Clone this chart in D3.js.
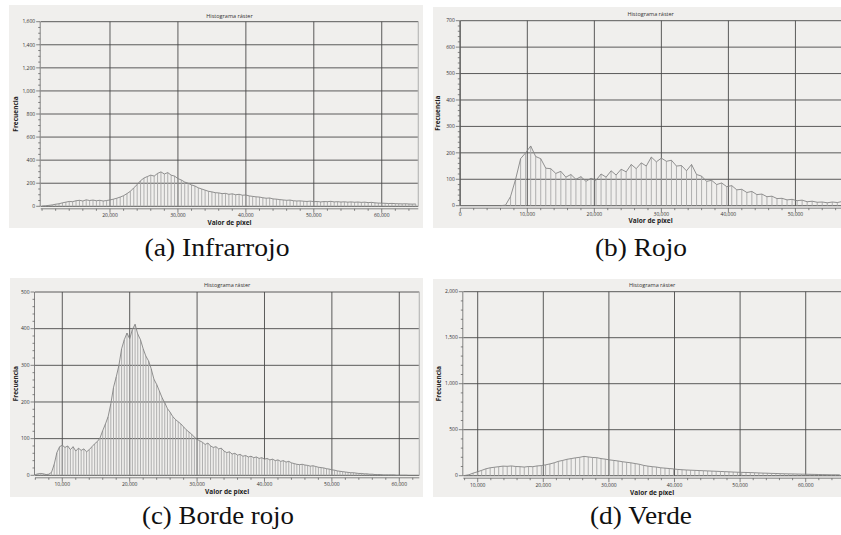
<!DOCTYPE html>
<html><head><meta charset="utf-8">
<script src="https://cdn.jsdelivr.net/npm/d3@7"></script>
<style>
html,body{margin:0;padding:0;background:#fff;}
svg{display:block;}
.tick-lbl{font-family:"Open Sans","DejaVu Sans",sans-serif;font-size:5px;fill:#333;}
.ttl{font-family:"Open Sans","DejaVu Sans",sans-serif;font-size:5.5px;fill:#333;}
.axl{font-family:"Open Sans","DejaVu Sans",sans-serif;font-size:6.5px;font-weight:bold;fill:#222;}
.cap{font-family:"Liberation Serif",serif;font-size:25px;fill:#111;}
</style>
</head><body>
<svg id="c" width="841" height="535"></svg>
<script>
// ---------------- DATA ----------------
const chartTitle = "Histograma ráster";
const xLabel = "Valor de píxel";
const yLabel = "Frecuencia";
const captions = ["(a) Infrarrojo", "(b) Rojo", "(c) Borde rojo", "(d) Verde"];

// (a) Infrarrojo : bins start 10000, width 500
const infrarrojoStart = 10000, infrarrojoStep = 500;
const infrarrojoFreq = [2,4,8,12,18,22,30,36,42,40,48,52,46,56,50,54,48,52,46,50,
  55,62,70,80,92,110,130,160,188,222,245,258,270,262,285,298,280,292,270,262,
  240,228,210,200,185,176,160,150,140,130,125,118,116,110,112,104,108,100,104,96,
  98,90,86,82,80,74,70,72,64,62,58,55,52,54,48,46,47,44,42,45,
  40,42,38,41,40,43,38,40,37,39,36,38,35,37,34,36,32,34,30,28,
  27,26,24,25,23,22,21,22,20,19,20];
const infrarrojoYTicks = [0,200,400,600,800,1000,1200,1400,1600];
const infrarrojoXTicks = [20000,30000,40000,50000,60000];

// (b) Rojo : bins start 6000, width 750
const rojoStart = 6000, rojoStep = 750;
const rojoFreq = [0,2,35,100,178,200,226,186,178,142,140,122,130,108,118,100,110,92,104,96,
  120,108,132,116,138,128,156,140,162,150,184,166,180,168,172,150,152,132,156,118,
  112,92,96,80,86,72,76,60,62,50,54,42,44,34,36,27,28,22,24,19,
  21,15,17,13,14,11,14,12,16];
const rojoYTicks = [0,100,200,300,400,500,600,700];
const rojoXTicks = [0,10000,20000,30000,40000,50000];

// (c) Borde rojo : bins start 6000, width 400
const bordeStart = 6000, bordeStep = 400;
const bordeFreq = [2,4,5,4,2,3,8,30,62,78,82,76,80,70,78,66,74,68,72,64,
  70,78,86,92,102,122,140,160,195,240,268,300,345,370,388,372,398,412,385,370,
  345,325,312,290,262,248,230,212,198,182,172,160,152,146,140,132,124,118,112,104,
  98,94,90,84,88,80,76,78,72,74,66,62,64,58,60,55,57,52,54,50,
  52,48,50,46,48,44,46,42,44,40,42,38,40,36,38,34,32,30,29,30,
  28,27,25,26,24,22,21,20,18,17,15,14,12,11,10,9,8,7,7,6,
  5,5,4,4,3,3,2,2,2,1,1,1,1,1,0,0,0,0,0];
const bordeYTicks = [0,100,200,300,400,500];
const bordeXTicks = [10000,20000,30000,40000,50000,60000];

// (d) Verde : bins start 8000, width 650
const verdeStart = 8000, verdeStep = 650;
const verdeFreq = [2,10,28,42,58,75,86,92,98,104,102,106,100,98,94,100,98,106,110,118,
  128,140,156,166,178,186,194,200,210,204,198,196,186,180,172,166,160,152,146,140,
  132,124,112,104,98,94,86,82,78,74,68,65,62,60,58,56,54,52,50,48,
  46,44,42,40,38,36,35,34,32,30,28,27,25,24,22,21,20,19,18,17,
  16,15,14,13,12,11,10,10,9];
const verdeYTicks = [0,500,1000,1500,2000];
const verdeXTicks = [10000,20000,30000,40000,50000,60000];

// ---------------- LAYOUT ----------------
const panels = [
  {start:infrarrojoStart, step:infrarrojoStep, freq:infrarrojoFreq, yTicks:infrarrojoYTicks, xTicks:infrarrojoXTicks,
   yMinor:50, xMinor:2000, xDom:[9800,65380],
   bg:[9,5,414,223], l:40.7, r:418.3, t:21.7, b:206.3, titleY:16, xlblY:215.5, axlY:223, fx:16, rightEdge:true,
   cap:captions[0], capX:217, capY:256, capW:145},
  {start:rojoStart, step:rojoStep, freq:rojoFreq, yTicks:rojoYTicks, xTicks:rojoXTicks,
   yMinor:20, xMinor:2000, xDom:[0,56800],
   bg:[433,7,410,221], l:460.3, r:841, t:20.7, b:205.7, titleY:14.5, xlblY:214.5, axlY:221, fx:437.5, rightEdge:false,
   cap:captions[1], capX:641, capY:256, capW:92},
  {start:bordeStart, step:bordeStep, freq:bordeFreq, yTicks:bordeYTicks, xTicks:bordeXTicks,
   yMinor:20, xMinor:2000, xDom:[5950,62970],
   bg:[10,278,413,219], l:35, r:419.3, t:292, b:475.3, titleY:285.5, xlblY:484.5, axlY:492, fx:15.7, rightEdge:true,
   cap:captions[2], capX:218, capY:524, capW:152},
  {start:verdeStart, step:verdeStep, freq:verdeFreq, yTicks:verdeYTicks, xTicks:verdeXTicks,
   yMinor:100, xMinor:2000, xDom:[7805,65380],
   bg:[433,279,410,218], l:463.3, r:841, t:291.7, b:475.7, titleY:285.5, xlblY:485, axlY:492.7, fx:438.3, rightEdge:false,
   cap:captions[3], capX:641, capY:524, capW:102}
];

const svg = d3.select("#c");
const fmt = d3.format(",");

panels.forEach((p, pi) => {
  const g = svg.append("g");
  g.append("rect").attr("x", p.bg[0]).attr("y", p.bg[1]).attr("width", p.bg[2]).attr("height", p.bg[3])
    .attr("fill", "#f0efed");

  const yMax = p.yTicks[p.yTicks.length - 1];
  const x = d3.scaleLinear().domain(p.xDom).range([p.l, p.r]);
  const y = d3.scaleLinear().domain([0, yMax]).range([p.b, p.t]);

  const clipId = "clip" + pi;
  svg.append("clipPath").attr("id", clipId).append("rect")
    .attr("x", p.l).attr("y", p.t - 1).attr("width", p.r - p.l).attr("height", p.b - p.t + 2);

  // grid
  const grid = g.append("g").attr("stroke", "#4a4a4a").attr("stroke-width", 0.9);
  p.yTicks.forEach(v => grid.append("line").attr("x1", p.l).attr("x2", p.r).attr("y1", y(v)).attr("y2", y(v)));
  p.xTicks.forEach(v => grid.append("line").attr("x1", x(v)).attr("x2", x(v)).attr("y1", p.t).attr("y2", p.b));
  if (p.rightEdge) g.append("line").attr("x1", p.r).attr("x2", p.r).attr("y1", p.t).attr("y2", p.b)
      .attr("stroke", "#b8b8b8").attr("stroke-width", 1.2);

  // histogram
  const data = p.freq.map((f, i) => ({v: p.start + i * p.step, f}));
  const hg = g.append("g").attr("clip-path", `url(#${clipId})`);
  hg.selectAll("line.sp").data(data).join("line").attr("class", "sp")
    .attr("x1", d => x(d.v)).attr("x2", d => x(d.v)).attr("y1", y(0)).attr("y2", d => y(d.f))
    .attr("stroke", "#a8a8a8").attr("stroke-width", 0.9);
  hg.append("path").datum(data)
    .attr("d", d3.line().x(d => x(d.v)).y(d => y(d.f)))
    .attr("fill", "none").attr("stroke", "#858585").attr("stroke-width", 0.9);

  // y axis
  const ax = g.append("g").attr("stroke", "#555").attr("stroke-width", 0.7);
  const yAxX = p.l - 0.5;
  ax.append("line").attr("x1", yAxX).attr("x2", yAxX).attr("y1", p.t).attr("y2", p.b);
  d3.range(0, yMax + 0.001, p.yMinor).forEach(v => {
    const major = p.yTicks.includes(v);
    ax.append("line").attr("x1", yAxX).attr("x2", yAxX - (major ? 4 : 2)).attr("y1", y(v)).attr("y2", y(v));
  });
  g.selectAll("text.yl").data(p.yTicks).join("text").attr("class", "tick-lbl")
    .attr("x", p.l - 5.5).attr("y", d => y(d)).attr("dy", "0.35em").attr("text-anchor", "end").text(d => fmt(d));

  // x axis
  const xAxY = p.b + 2.5;
  ax.append("line").attr("x1", p.l).attr("x2", p.r).attr("y1", xAxY).attr("y2", xAxY);
  const minorStart = Math.ceil(p.xDom[0] / p.xMinor) * p.xMinor;
  d3.range(minorStart, p.xDom[1], p.xMinor).forEach(v => {
    const major = p.xTicks.includes(v);
    ax.append("line").attr("x1", x(v)).attr("x2", x(v)).attr("y1", xAxY).attr("y2", xAxY + (major ? 4 : 2));
  });
  g.selectAll("text.xl").data(p.xTicks).join("text").attr("class", "tick-lbl")
    .attr("x", d => x(d)).attr("y", p.xlblY).attr("dy", "0.35em").attr("text-anchor", "middle").text(d => fmt(d));

  // titles
  const cx = (p.l + Math.min(p.r, p.bg[0] + p.bg[2])) / 2;
  g.append("text").attr("class", "ttl").attr("x", cx).attr("y", p.titleY).attr("dy", "0.35em")
    .attr("text-anchor", "middle").text(chartTitle);
  g.append("text").attr("class", "axl").attr("x", cx).attr("y", p.axlY).attr("dy", "0.35em")
    .attr("text-anchor", "middle").text(xLabel);
  g.append("text").attr("class", "axl").attr("transform", `translate(${p.fx},${(p.t + p.b) / 2}) rotate(-90)`)
    .attr("dy", "0.35em").attr("text-anchor", "middle").text(yLabel);

  // caption
  svg.append("text").attr("class", "cap").attr("x", p.capX).attr("y", p.capY)
    .attr("text-anchor", "middle").attr("textLength", p.capW).attr("lengthAdjust", "spacingAndGlyphs")
    .text(p.cap);
});
</script>
</body></html>
